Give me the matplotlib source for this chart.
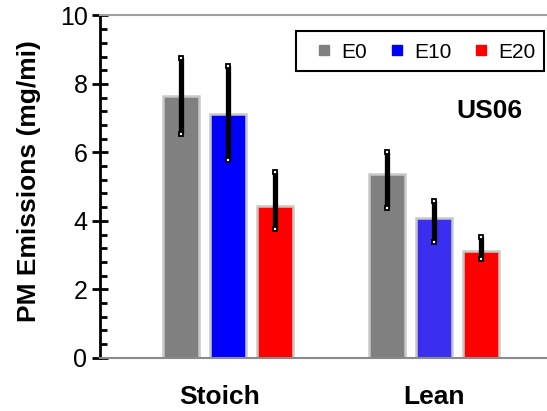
import matplotlib
matplotlib.use("Agg")
import matplotlib.pyplot as plt
from matplotlib.ticker import MultipleLocator
from matplotlib.lines import Line2D
from matplotlib.patches import Rectangle
import numpy as np

plt.rcParams['font.family'] = ['Liberation Sans', 'DejaVu Sans']

groups = ["Stoich", "Lean"]
fuels = ["E0", "E10", "E20"]
pm = {
    "E0": [7.65, 5.37],
    "E10": [7.12, 4.07],
    "E20": [4.44, 3.13],
}
err_low = {
    "E0": [6.54, 4.37],
    "E10": [5.78, 3.39],
    "E20": [3.75, 2.88],
}
err_high = {
    "E0": [8.77, 6.02],
    "E10": [8.51, 4.58],
    "E20": [5.43, 3.52],
}
bar_colors = {
    "E0": ["#808080", "#808080"],
    "E10": ["#0000ff", "#3a2ef0"],
    "E20": ["#ff0000", "#ff0000"],
}
legend_colors = {"E0": "#808080", "E10": "#0000ff", "E20": "#ff0000"}

fig = plt.figure(figsize=(5.47, 4.11), dpi=100)
ax = fig.add_axes([100 / 547, (411 - 357.7) / 411, 1 - 100 / 547, (357.7 - 15.5) / 411])

x = np.arange(len(groups))
spacing = 0.228
width = 0.175
for i, f in enumerate(fuels):
    xs = x + (i - 1) * spacing
    vals = np.array(pm[f])
    ax.bar(xs, vals, width=width, color=bar_colors[f], edgecolor="#c8c8c8",
           linewidth=1.8, zorder=2)
    lo = vals - np.array(err_low[f])
    hi = np.array(err_high[f]) - vals
    ax.errorbar(xs, vals, yerr=[lo, hi], fmt="none", ecolor="black",
                elinewidth=3.8, capsize=0, zorder=3)
    ends = np.concatenate([err_low[f], err_high[f]])
    ax.plot(np.concatenate([xs, xs]), ends, linestyle="none", marker="s",
            markersize=3.2, markerfacecolor="white", markeredgecolor="black",
            markeredgewidth=1.3, zorder=4)

ax.set_xlim(-0.621, 1.549)
ax.set_ylim(0, 10)
ax.yaxis.set_major_locator(MultipleLocator(2))
ax.yaxis.set_minor_locator(MultipleLocator(0.4))
ax.tick_params(axis="y", which="major", direction="inout", length=12, width=2,
               labelsize=18, pad=3)
ax.tick_params(axis="y", which="minor", direction="in", length=5, width=2)
# group labels sit slightly left of the Stoich group centre
ax.set_xticks([x[0] - 0.04, x[1]])
ax.set_xticklabels(groups, fontsize=19, fontweight="bold")
ax.tick_params(axis="x", length=0, pad=20)

ax.spines["left"].set_linewidth(2)
ax.spines["left"].set_color("black")
ax.spines["bottom"].set_color("#8a8a8a")
ax.spines["bottom"].set_linewidth(1.5)
ax.spines["top"].set_color("#a0a0a0")
ax.spines["top"].set_linewidth(1.5)
ax.spines["right"].set_visible(False)

ax.set_ylabel("PM Emissions (mg/mi)", fontsize=19, fontweight="bold")
ax.yaxis.set_label_coords(-0.131, 0.516)

ax.text(0.946, 0.72, "US06", transform=ax.transAxes, fontsize=19,
        fontweight="bold", ha="right", va="center")

# legend box drawn separately so it can carry wide side margins
ax.add_patch(Rectangle((0.4385, 0.8378), 0.9933 - 0.4385, 0.9547 - 0.8378,
                       transform=ax.transAxes, facecolor="white",
                       edgecolor="black", linewidth=1.5, zorder=5,
                       clip_on=False))
handles = [Line2D([], [], marker="s", linestyle="none", markersize=7.5,
                  markerfacecolor=legend_colors[f], markeredgecolor=legend_colors[f])
           for f in fuels]
leg = ax.legend(handles, fuels, loc="center left", ncol=3, fontsize=15,
                frameon=False, bbox_to_anchor=(0.4779, 0.893),
                borderaxespad=0, borderpad=0, handlelength=1.0,
                handletextpad=0.32, columnspacing=0.94)
leg.set_zorder(6)

fig.savefig("out.png", dpi=100)
